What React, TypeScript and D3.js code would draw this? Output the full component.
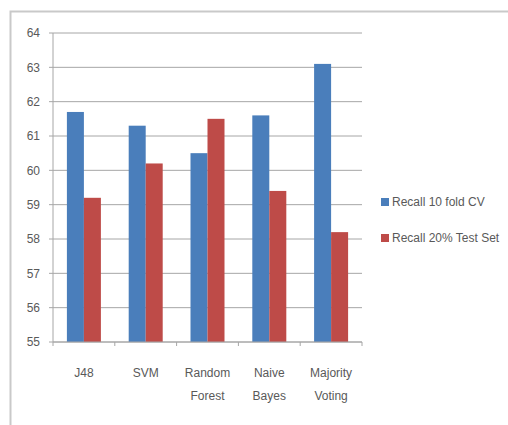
import React from "react";
import * as d3 from "d3";

const categories: string[][] = [["J48"], ["SVM"], ["Random", "Forest"], ["Naive", "Bayes"], ["Majority", "Voting"]];
const seriesNames = ["Recall 10 fold CV", "Recall 20% Test Set"];
const recallCV = [61.7, 61.3, 60.5, 61.6, 63.1];
const recallTest = [59.2, 60.2, 61.5, 59.4, 58.2];
const yTicks = [55, 56, 57, 58, 59, 60, 61, 62, 63, 64];
const colors = ["#4a7ebb", "#be4b48"];

const W = 508;
const H = 425;
const left = 53;
const right = 362;
const top = 33;
const bottom = 342;
const font = "'Liberation Sans', Arial, sans-serif";

export default function App() {
  const x = d3.scaleBand<number>().domain(d3.range(categories.length)).range([left, right]);
  const y = d3.scaleLinear().domain([55, 64]).range([bottom, top]);
  const barW = 17;
  const series = [recallCV, recallTest];

  return (
    <svg width={W} height={H} style={{ position: "absolute", left: 0, top: 0, background: "#fff" }}>
      {/* outer frame */}
      <path d={`M10.5,${H} V11.5 H${W}`} fill="none" stroke="#c9c9c9" strokeWidth={2} />
      {/* gridlines and y ticks */}
      {yTicks.map((t) => (
        <g key={t}>
          <line x1={left - 4} x2={right} y1={y(t)} y2={y(t)} stroke="#a6a6a6" strokeWidth={1} />
          <text x={40} y={y(t)} dy="0.35em" textAnchor="end" fontFamily={font} fontSize={12} fill="#595959">
            {t}
          </text>
        </g>
      ))}
      <line x1={left} x2={left} y1={top} y2={bottom} stroke="#a6a6a6" />
      {/* bars */}
      {categories.map((_, i) => {
        const c = (x(i) as number) + x.bandwidth() / 2;
        return series.map((s, k) => (
          <rect
            key={`${i}-${k}`}
            x={c - barW + k * barW}
            y={y(s[i])}
            width={barW}
            height={y(55) - y(s[i])}
            fill={colors[k]}
          />
        ));
      })}
      {/* x axis */}
      <line x1={left} x2={right} y1={bottom} y2={bottom} stroke="#a6a6a6" />
      {d3.range(categories.length + 1).map((i) => {
        const xx = left + i * x.step();
        return <line key={i} x1={xx} x2={xx} y1={bottom} y2={bottom + 4} stroke="#a6a6a6" />;
      })}
      {categories.map((lines, i) => {
        const c = (x(i) as number) + x.bandwidth() / 2;
        return (
          <text key={i} textAnchor="middle" fontFamily={font} fontSize={12} fill="#595959">
            {lines.map((l, j) => (
              <tspan key={j} x={c} y={377 + j * 23}>
                {l}
              </tspan>
            ))}
          </text>
        );
      })}
      {/* legend */}
      {seriesNames.map((n, k) => (
        <g key={n} transform={`translate(381,${202 + k * 36})`}>
          <rect x={0} y={-4} width={8} height={8} fill={colors[k]} />
          <text x={11} y={0} dy="0.35em" fontFamily={font} fontSize={12} fill="#595959">
            {n}
          </text>
        </g>
      ))}
    </svg>
  );
}
